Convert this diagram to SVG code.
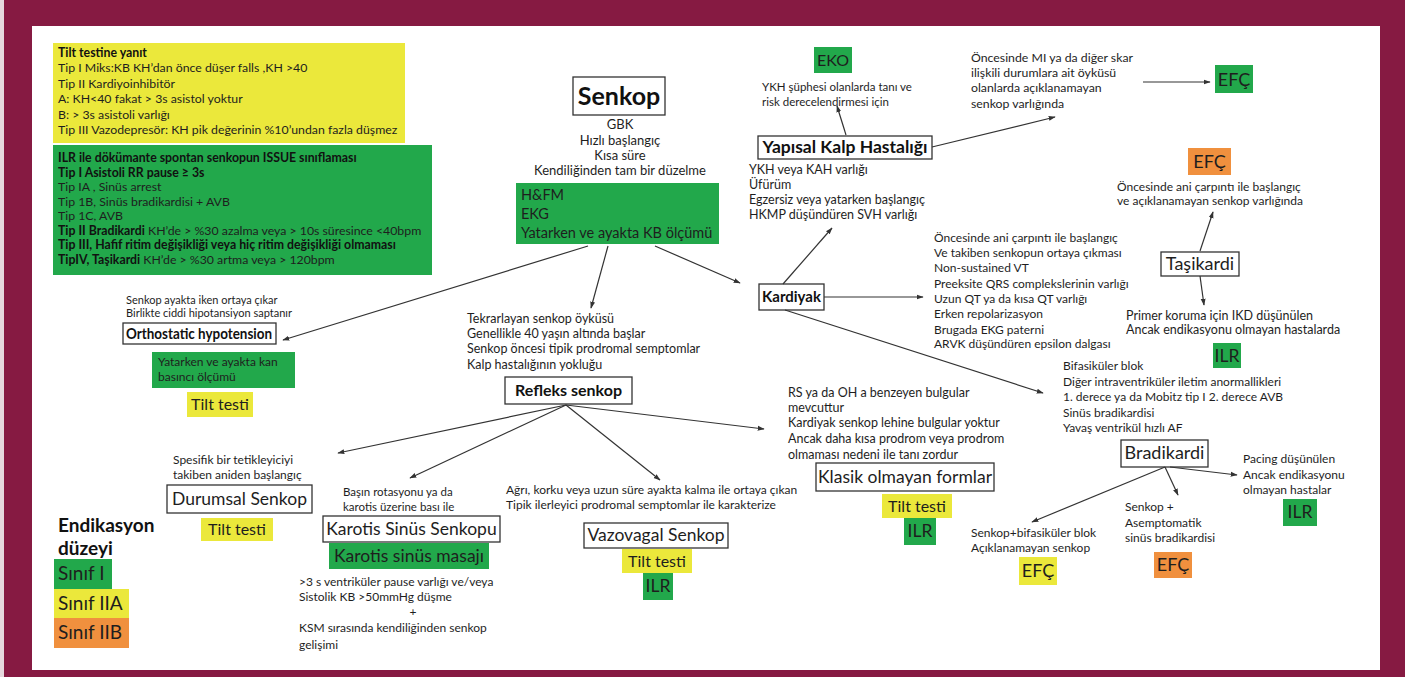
<svg xmlns="http://www.w3.org/2000/svg" width="1405" height="677" viewBox="0 0 1405 677">
<defs>
<marker id="ah" viewBox="0 0 10 10" refX="9" refY="5" markerWidth="7" markerHeight="7" markerUnits="userSpaceOnUse" orient="auto"><path d="M0,1.5 L10,5 L0,8.5 z" fill="#333"/></marker>
<style>
text{font-family:Lato,"Liberation Sans",sans-serif;fill:#1e1e1e}
.b{font-weight:bold;fill:#111}
.f11{font-size:11px}
.f115{font-size:11.5px}
.f12{font-size:12px}
.f123{font-size:12.3px}
.f125{font-size:12.5px}
.f13{font-size:13px}
.f14{font-size:14.5px}
.f15{font-size:15px}
.f16{font-size:16px}
.f17{font-size:17.5px}
.f18{font-size:18px}
.f19{font-size:19px}
.mid{text-anchor:middle}
.box{fill:#fff;stroke:#333;stroke-width:1.3}
.g{fill:#22a84b}
.y{fill:#ebe83b}
.o{fill:#f0903e}
.c{fill:none;stroke:#333;stroke-width:1.2;marker-end:url(#ah)}
</style>
</defs>
<rect width="1405" height="677" fill="#861a42"/>
<rect x="0" y="0" width="4" height="677" fill="#e6d8dd"/>
<rect x="32" y="26" width="1348" height="644" fill="#fff"/>

<g id="tilt-yanit">
<rect x="53" y="43" width="352" height="100" class="y"/>
<text class="f123 b" x="58" y="57">Tilt testine yanıt</text>
<text class="f123" x="58" y="72.4">Tip I Miks:KB KH’dan önce düşer falls ,KH &gt;40</text>
<text class="f123" x="58" y="87.8">Tip II Kardiyoinhibitör</text>
<text class="f123" x="58" y="103.2">A: KH&lt;40 fakat &gt; 3s asistol yoktur</text>
<text class="f123" x="58" y="118.6">B: &gt; 3s asistoli varlığı</text>
<text class="f123" x="58" y="134">Tip III Vazodepresör: KH pik değerinin %10’undan fazla düşmez</text>
</g>

<g id="issue">
<rect x="53" y="145" width="379" height="130" class="g"/>
<text class="f123 b" x="58" y="162">ILR ile dökümante spontan senkopun ISSUE sınıflaması</text>
<text class="f123 b" x="58" y="176.5">Tip I Asistoli RR pause ≥ 3s</text>
<text class="f123" x="58" y="191">Tip IA , Sinüs arrest</text>
<text class="f123" x="58" y="205.5">Tip 1B, Sinüs bradikardisi + AVB</text>
<text class="f123" x="58" y="220">Tip 1C, AVB</text>
<text class="f123" x="58" y="234.5"><tspan class="b">Tip II Bradikardi</tspan> KH’de &gt; %30 azalma veya  &gt; 10s  süresince &lt;40bpm</text>
<text class="f123 b" x="58" y="249">Tip III, Hafif  ritim değişikliği veya  hiç ritim değişikliği olmaması</text>
<text class="f123" x="58" y="263.5"><tspan class="b">TipIV, Taşikardi</tspan> KH’de &gt; %30 artma veya  &gt; 120bpm</text>
</g>

<g id="senkop">
<rect x="573" y="77" width="92" height="38" class="box"/>
<text class="b mid" style="font-size:25px" x="619" y="105">Senkop</text>
<text class="f13 mid" x="620" y="129">GBK</text>
<text class="f13 mid" x="620" y="145">Hızlı başlangıç</text>
<text class="f13 mid" x="620" y="160">Kısa süre</text>
<text class="f13 mid" x="620" y="175">Kendiliğinden tam bir düzelme</text>
<rect x="516" y="183" width="203" height="61" class="g"/>
<text class="f14" x="521" y="200">H&amp;FM</text>
<text class="f14" x="521" y="219">EKG</text>
<text class="f14" x="521" y="238">Yatarken ve ayakta KB ölçümü</text>
</g>

<g id="eko">
<rect x="814" y="47" width="38" height="26" class="g"/>
<text class="f16 mid" x="833" y="66">EKO</text>
<text class="f115" x="762" y="91">YKH şüphesi olanlarda tanı ve</text>
<text class="f115" x="762" y="106">risk derecelendirmesi için</text>
</g>

<g id="yapisal">
<rect x="758" y="136" width="174" height="23" class="box"/>
<text class="f17 b mid" x="845" y="153">Yapısal Kalp Hastalığı</text>
<text class="f125" x="749" y="174">YKH veya  KAH varlığı</text>
<text class="f125" x="749" y="189">Üfürüm</text>
<text class="f125" x="749" y="204">Egzersiz veya yatarken başlangıç</text>
<text class="f125" x="749" y="219">HKMP düşündüren SVH varlığı</text>
</g>

<g id="skar">
<text class="f123" x="971" y="62">Öncesinde MI ya da diğer skar</text>
<text class="f123" x="971" y="77">ilişkili  durumlara ait öyküsü</text>
<text class="f123" x="971" y="92">olanlarda açıklanamayan</text>
<text class="f123" x="971" y="108">senkop varlığında</text>
</g>

<g id="efc-skar">
<rect x="1215" y="65" width="38" height="28" class="g"/>
<text class="f18 mid" x="1234" y="85.5">EFÇ</text>
</g>

<g id="efc-carpinti">
<rect x="1188" y="148" width="43" height="27" class="o"/>
<text class="f18 mid" x="1209.5" y="168">EFÇ</text>
<text class="f12" x="1117" y="191">Öncesinde ani çarpıntı ile başlangıç</text>
<text class="f12" x="1117" y="205">ve açıklanamayan senkop varlığında</text>
</g>

<g id="tasikardi">
<rect x="1161" y="252" width="78" height="24" class="box"/>
<text class="f18 mid" x="1200" y="270">Taşikardi</text>
</g>

<g id="ikd">
<text class="f125" x="1126" y="320">Primer koruma için IKD düşünülen</text>
<text class="f125" x="1126" y="334">Ancak endikasyonu olmayan hastalarda</text>
<rect x="1213" y="343" width="28" height="25" class="g"/>
<text class="f17 mid" x="1227" y="361.5">ILR</text>
</g>

<g id="kardiyak">
<rect x="759" y="284" width="65" height="26" class="box"/>
<text class="f15 b mid" x="791.5" y="302">Kardiyak</text>
</g>

<g id="kardiyak-liste">
<text class="f12" x="934" y="242">Öncesinde ani çarpıntı ile başlangıç</text>
<text class="f12" x="934" y="257">Ve takiben senkopun ortaya çıkması</text>
<text class="f12" x="934" y="272">Non-sustained VT</text>
<text class="f12" x="934" y="288">Preeksite QRS complekslerinin varlığı</text>
<text class="f12" x="934" y="303">Uzun QT ya da kısa QT varlığı</text>
<text class="f12" x="934" y="318">Erken repolarizasyon</text>
<text class="f12" x="934" y="334">Brugada EKG paterni</text>
<text class="f12" x="934" y="348">ARVK düşündüren epsilon dalgası</text>
</g>

<g id="orthostatic">
<text class="f11" x="126" y="304">Senkop ayakta iken ortaya çıkar</text>
<text class="f11" x="126" y="317">Birlikte ciddi hipotansiyon saptanır</text>
<rect x="123" y="323" width="153" height="21" class="box"/>
<text class="b" style="font-size:14.5px" x="126" y="339" textLength="146" lengthAdjust="spacingAndGlyphs">Orthostatic hypotension</text>
<rect x="152" y="352" width="143" height="36" class="g"/>
<text class="f12" x="158" y="366">Yatarken ve ayakta kan</text>
<text class="f12" x="158" y="381">basıncı ölçümü</text>
<rect x="187" y="392" width="66" height="25" class="y"/>
<text class="f16 mid" x="220" y="410">Tilt testi</text>
</g>

<g id="refleks-ozellik">
<text class="f125" x="467" y="323">Tekrarlayan senkop öyküsü</text>
<text class="f125" x="467" y="338">Genellikle 40 yaşın altında başlar</text>
<text class="f125" x="467" y="353">Senkop öncesi tipik prodromal semptomlar</text>
<text class="f125" x="467" y="369">Kalp hastalığının yokluğu</text>
</g>

<g id="refleks">
<rect x="505" y="377" width="127" height="27" class="box"/>
<text class="f16 b mid" x="568.5" y="396">Refleks senkop</text>
</g>

<g id="durumsal">
<text class="f12" x="173" y="464">Spesifik bir tetikleyiciyi</text>
<text class="f12" x="173" y="479">takiben aniden başlangıç</text>
<rect x="167" y="485" width="145" height="28" class="box"/>
<text class="f17 mid" x="239.5" y="505">Durumsal Senkop</text>
<rect x="201" y="518" width="72" height="23" class="y"/>
<text class="f16 mid" x="237" y="535">Tilt testi</text>
</g>

<g id="karotis">
<text class="f115" x="343" y="496">Başın rotasyonu ya da</text>
<text class="f115" x="343" y="511">karotis üzerine bası ile</text>
<rect x="323" y="516" width="177" height="26" class="box"/>
<text class="f17 mid" x="411.5" y="535">Karotis Sinüs Senkopu</text>
<rect x="329" y="543" width="160" height="26" class="g"/>
<text class="f17 mid" x="409" y="562">Karotis sinüs masajı</text>
<text class="f12" x="299" y="586">&gt;3 s  ventriküler pause varlığı ve/veya</text>
<text class="f12" x="299" y="601">Sistolik KB &gt;50mmHg düşme</text>
<text class="f12 mid" x="413" y="616">+</text>
<text class="f12" x="299" y="632">KSM sırasında kendiliğinden senkop</text>
<text class="f12" x="299" y="649">gelişimi</text>
</g>

<g id="vazovagal">
<text class="f12" x="506" y="494">Ağrı, korku veya uzun süre ayakta kalma ile  ortaya çıkan</text>
<text class="f12" x="506" y="509">Tipik ilerleyici prodromal semptomlar ile karakterize</text>
<rect x="584" y="523" width="144" height="25" class="box"/>
<text class="f17 mid" x="656" y="541">Vazovagal Senkop</text>
<rect x="622" y="549" width="70" height="24" class="y"/>
<text class="f16 mid" x="657" y="567">Tilt testi</text>
<rect x="643" y="573" width="30" height="27" class="g"/>
<text class="f17 mid" x="658" y="592">ILR</text>
</g>

<g id="klasik">
<text class="f125" x="788" y="397">RS ya da OH a benzeyen bulgular</text>
<text class="f125" x="788" y="412">mevcuttur</text>
<text class="f125" x="788" y="427">Kardiyak senkop lehine bulgular yoktur</text>
<text class="f125" x="788" y="443">Ancak daha kısa prodrom veya prodrom</text>
<text class="f125" x="788" y="459">olmaması nedeni ile tanı zordur</text>
<rect x="816" y="463" width="178" height="28" class="box"/>
<text class="f17 mid" x="905" y="483">Klasik olmayan formlar</text>
<rect x="882" y="494" width="70" height="24" class="y"/>
<text class="f16 mid" x="917" y="512">Tilt testi</text>
<rect x="904" y="518" width="32" height="27" class="g"/>
<text class="f17 mid" x="920" y="537">ILR</text>
</g>

<g id="bradikardi-liste">
<text class="f12" x="1063" y="370">Bifasiküler blok</text>
<text class="f12" x="1063" y="386">Diğer intraventriküler iletim anormallikleri</text>
<text class="f12" x="1063" y="401">1. derece  ya da Mobitz tip I 2. derece AVB</text>
<text class="f12" x="1063" y="417">Sinüs bradikardisi</text>
<text class="f12" x="1063" y="432">Yavaş ventrikül hızlı AF</text>
</g>

<g id="bradikardi">
<rect x="1121" y="440" width="87" height="27" class="box"/>
<text class="f18 mid" x="1164.5" y="459">Bradikardi</text>
</g>

<g id="pacing">
<text class="f12" x="1243" y="463">Pacing düşünülen</text>
<text class="f12" x="1243" y="479">Ancak endikasyonu</text>
<text class="f12" x="1243" y="494">olmayan hastalar</text>
<rect x="1283" y="499" width="34" height="27" class="g"/>
<text class="f17 mid" x="1300" y="518">ILR</text>
</g>

<g id="asemptomatik">
<text class="f12" x="1125" y="511">Senkop   +</text>
<text class="f12" x="1125" y="527">Asemptomatik</text>
<text class="f12" x="1125" y="542">sinüs bradikardisi</text>
<rect x="1154" y="552" width="38" height="26" class="o"/>
<text class="f18 mid" x="1173" y="571">EFÇ</text>
</g>

<g id="bifasikuler">
<text class="f12" x="971" y="537">Senkop+bifasiküler blok</text>
<text class="f12" x="971" y="552">Açıklanamayan senkop</text>
<rect x="1019" y="557" width="38" height="28" class="y"/>
<text class="f18 mid" x="1038" y="577">EFÇ</text>
</g>

<g id="legend">
<text class="f19 b" x="58" y="532">Endikasyon</text>
<text class="f19 b" x="58" y="555">düzeyi</text>
<rect x="54" y="559" width="58" height="30" class="g"/>
<text class="f19" x="58" y="580">Sınıf I</text>
<rect x="54" y="589" width="75" height="29" class="y"/>
<text class="f19" x="58" y="610">Sınıf IIA</text>
<rect x="54" y="618" width="75" height="30" class="o"/>
<text class="f19" x="58" y="639">Sınıf IIB</text>
</g>

<g id="connectors">
<line class="c" x1="588" y1="246" x2="283" y2="340"/>
<line class="c" x1="608" y1="246" x2="591" y2="308"/>
<line class="c" x1="655" y1="246" x2="740" y2="283"/>
<line class="c" x1="846" y1="135" x2="837" y2="106"/>
<line class="c" x1="932" y1="147" x2="1055" y2="117"/>
<line class="c" x1="1143" y1="82" x2="1210" y2="82"/>
<line class="c" x1="1200" y1="251" x2="1213" y2="212"/>
<line class="c" x1="1200" y1="276" x2="1204" y2="305"/>
<line class="c" x1="783" y1="284" x2="832" y2="228"/>
<line class="c" x1="824" y1="297" x2="923" y2="297"/>
<line class="c" x1="785" y1="310" x2="1043" y2="393"/>
<line class="c" x1="566" y1="405" x2="338" y2="453"/>
<line class="c" x1="566" y1="405" x2="410" y2="478"/>
<line class="c" x1="566" y1="405" x2="660" y2="480"/>
<line class="c" x1="566" y1="405" x2="764" y2="429"/>
<line class="c" x1="1165" y1="467" x2="1032" y2="522"/>
<line class="c" x1="1165" y1="467" x2="1178" y2="495"/>
<line class="c" x1="1170" y1="467" x2="1237" y2="475"/>
</g>
</svg>
